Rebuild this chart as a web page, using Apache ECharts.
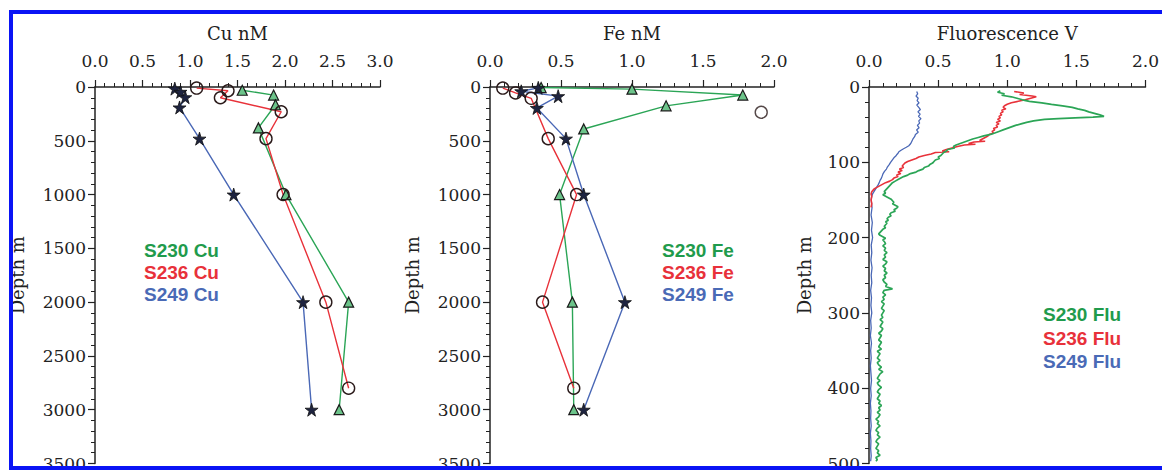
<!DOCTYPE html>
<html>
<head>
<meta charset="utf-8">
<script src="https://cdn.jsdelivr.net/npm/echarts@6/dist/echarts.min.js"></script>
<style>
html,body{margin:0;padding:0;background:#fff;}
#c{width:1162px;height:472px;}
</style>
</head>
<body>
<div id="c"></div>
<script>
// ---------- DATA ----------
// Cu (nM) vs depth (m)
const cuDepth230 = [30, 75, 165, 380, 1000, 2000, 3000];
const cu230      = [1.55, 1.88, 1.90, 1.72, 2.01, 2.67, 2.57];
const cuDepth236 = [10, 35, 100, 230, 480, 1000, 2000, 2800];
const cu236      = [1.07, 1.40, 1.32, 1.96, 1.80, 1.98, 2.43, 2.67];
const cuDepth249 = [15, 45, 95, 190, 480, 1000, 2000, 3000];
const cu249      = [0.84, 0.90, 0.95, 0.89, 1.10, 1.46, 2.19, 2.28];

// Fe (nM) vs depth (m)
const feDepth230 = [5, 20, 75, 175, 390, 1000, 2000, 3000];
const fe230      = [0.36, 1.00, 1.78, 1.24, 0.66, 0.49, 0.58, 0.59];
const feDepth236 = [10, 55, 105, 480, 1000, 2000, 2800];
const fe236      = [0.09, 0.18, 0.29, 0.41, 0.61, 0.37, 0.59];
const feDepth236Outlier = [235];
const fe236Outlier      = [1.91];
const feDepth249 = [8, 40, 85, 195, 480, 1000, 2000, 3000];
const fe249      = [0.34, 0.22, 0.48, 0.33, 0.535, 0.66, 0.95, 0.66];

// Fluorescence (V) profiles: [depth m, volts]
const flu230 = [[5,0.95],[7,0.93],[9,0.98],[11,0.96],[13,1.03],[15,1.07],[17,1.11],[19,1.16],[21,1.25],[23,1.32],[25,1.40],[27,1.47],[29,1.51],[31,1.56],[33,1.59],[35,1.63],[37,1.67],[39,1.70],[40,1.62],[41,1.49],[42,1.37],[43,1.27],[45,1.19],[47,1.14],[49,1.10],[51,1.06],[53,1.03],[55,1.00],[57,0.97],[59,0.94],[61,0.91],[63,0.88],[65,0.83],[67,0.79],[69,0.75],[71,0.72],[73,0.69],[75,0.66],[77,0.63],[79,0.61],[81,0.62],[83,0.57],[85,0.56],[87,0.54],[89,0.53],[91,0.52],[93,0.50],[95,0.51],[97,0.48],[99,0.47],[101,0.46],[103,0.44],[105,0.43],[107,0.40],[109,0.39],[111,0.36],[113,0.34],[115,0.30],[117,0.28],[119,0.25],[121,0.23],[123,0.21],[125,0.19],[127,0.17],[129,0.16],[131,0.15],[133,0.14],[135,0.13],[137,0.12],[139,0.11],[141,0.12],[143,0.10],[145,0.12],[147,0.14],[149,0.16],[151,0.17],[153,0.18],[155,0.17],[157,0.19],[159,0.21],[161,0.20],[163,0.18],[165,0.19],[167,0.16],[169,0.15],[171,0.16],[173,0.14],[175,0.13],[177,0.14],[179,0.12],[181,0.13],[183,0.12],[185,0.11],[187,0.12],[189,0.10],[191,0.09],[193,0.08],[195,0.07],[197,0.08],[199,0.10],[201,0.12],[203,0.10],[205,0.11],[208,0.12],[211,0.10],[214,0.12],[217,0.11],[220,0.13],[223,0.11],[226,0.12],[229,0.10],[232,0.13],[235,0.12],[238,0.10],[241,0.12],[244,0.11],[247,0.13],[250,0.11],[253,0.12],[256,0.10],[259,0.11],[262,0.13],[265,0.12],[268,0.17],[270,0.11],[273,0.10],[276,0.12],[279,0.10],[282,0.11],[285,0.09],[288,0.11],[291,0.10],[294,0.09],[297,0.11],[300,0.10],[303,0.09],[306,0.10],[309,0.08],[312,0.10],[315,0.09],[318,0.08],[321,0.10],[324,0.09],[327,0.07],[330,0.09],[333,0.08],[336,0.07],[339,0.09],[342,0.08],[345,0.07],[348,0.09],[351,0.06],[354,0.08],[357,0.07],[360,0.06],[363,0.08],[366,0.06],[369,0.07],[372,0.09],[375,0.07],[378,0.10],[381,0.08],[384,0.07],[387,0.06],[390,0.08],[393,0.06],[396,0.07],[399,0.09],[402,0.07],[405,0.06],[408,0.08],[411,0.07],[414,0.06],[417,0.08],[420,0.07],[423,0.09],[426,0.07],[429,0.08],[432,0.06],[435,0.08],[438,0.07],[441,0.05],[444,0.07],[447,0.06],[450,0.08],[453,0.06],[456,0.05],[459,0.07],[462,0.06],[465,0.08],[468,0.06],[471,0.05],[474,0.07],[477,0.06],[480,0.05],[483,0.07],[486,0.06],[489,0.08],[492,0.05],[495,0.06],[497,0.05]];
const flu236 = [[6,1.05],[8,1.12],[10,1.09],[12,1.18],[13,1.21],[15,1.17],[17,1.13],[19,1.08],[21,1.03],[23,1.00],[25,0.98],[27,0.97],[29,0.99],[31,0.96],[33,0.97],[35,0.95],[37,0.96],[39,0.94],[41,0.95],[43,0.93],[45,0.95],[47,0.92],[49,0.94],[51,0.92],[53,0.93],[55,0.90],[57,0.91],[59,0.89],[61,0.90],[63,0.87],[65,0.86],[67,0.84],[69,0.82],[71,0.80],[72,0.84],[73,0.76],[75,0.72],[76,0.77],[77,0.69],[79,0.64],[81,0.60],[83,0.56],[85,0.53],[86,0.58],[87,0.48],[89,0.45],[91,0.40],[93,0.36],[95,0.34],[97,0.31],[99,0.28],[101,0.26],[103,0.25],[105,0.24],[107,0.25],[109,0.22],[111,0.24],[113,0.21],[115,0.23],[117,0.20],[119,0.21],[121,0.18],[123,0.17],[125,0.15],[127,0.12],[129,0.10],[131,0.08],[133,0.06],[135,0.04],[137,0.03],[139,0.02],[142,0.015],[145,0.02],[150,0.015],[155,0.02],[160,0.015]];
const flu249 = [[6,0.345],[9,0.352],[12,0.340],[15,0.356],[18,0.348],[21,0.362],[24,0.346],[27,0.360],[30,0.372],[33,0.354],[36,0.370],[39,0.358],[42,0.376],[45,0.360],[48,0.366],[51,0.350],[54,0.362],[57,0.344],[60,0.356],[63,0.336],[66,0.330],[69,0.318],[72,0.310],[75,0.302],[78,0.288],[80,0.270],[82,0.250],[84,0.232],[86,0.216],[88,0.210],[90,0.200],[92,0.192],[94,0.180],[96,0.172],[98,0.164],[100,0.156],[103,0.146],[106,0.134],[109,0.126],[112,0.112],[115,0.102],[118,0.096],[121,0.090],[124,0.080],[127,0.074],[130,0.066],[133,0.056],[136,0.046],[139,0.036],[142,0.026],[145,0.020],[150,0.016],[160,0.022],[170,0.015],[180,0.024],[190,0.018],[200,0.026],[210,0.016],[220,0.020],[230,0.014],[240,0.022],[250,0.016],[260,0.020],[270,0.012],[280,0.018],[290,0.014],[300,0.020],[310,0.012],[320,0.016],[330,0.010],[340,0.018],[350,0.012],[360,0.016],[370,0.010],[380,0.014],[390,0.018],[400,0.012],[410,0.016],[420,0.010],[430,0.014],[440,0.012],[450,0.016],[460,0.010],[470,0.014],[480,0.012],[490,0.016],[497,0.012]];

const axisTitles = ['Cu nM', 'Fe nM', 'Fluorescence V'];
const depthTitle = 'Depth m';
const names230 = ['S230 Cu', 'S230 Fe', 'S230 Flu'];
const names236 = ['S236 Cu', 'S236 Fe', 'S236 Flu'];
const names249 = ['S249 Cu', 'S249 Fe', 'S249 Flu'];

// ---------- STYLE ----------
const GREEN = '#2ba556', RED = '#e8323a', BLUE = '#4a68b6';
const LG_GREEN = '#1f9b4c', LG_RED = '#e8313a', LG_BLUE = '#4a6ab6';
const SERIF = '"DejaVu Serif", "Liberation Serif", serif';
const SANS = '"Liberation Sans", Arial, sans-serif';
const STAR = 'path://M50,0 L61,35 L98,35 L68,57 L79,91 L50,70 L21,91 L32,57 L2,35 L39,35 Z';

const zip = (d, v) => d.map((dd, i) => [v[i], dd]);
const flip = arr => arr.map(p => [p[1], p[0]]);

const grids = [
  {left: 95,  top: 87, width: 285, height: 379},
  {left: 490, top: 87, width: 284, height: 379},
  {left: 869, top: 87, width: 284, height: 381}
];
const xMax = [3, 2, 2];
const yMax = [3500, 3500, 500];
const yInt = [500, 500, 100];
const yNameGap = [69, 69, 56];

const xAxes = grids.map((g, i) => ({
  gridIndex: i, type: 'value', position: 'top', min: 0, max: xMax[i], interval: 0.5,
  name: axisTitles[i], nameLocation: 'middle', nameGap: 45,
  nameTextStyle: {fontFamily: SERIF, fontSize: 18, color: '#222'},
  axisLine: {show: true, onZero: false, lineStyle: {color: '#222', width: 1.5}},
  axisTick: {show: true, inside: false, length: 7, lineStyle: {color: '#222', width: 1.2}},
  minorTick: {show: true, splitNumber: 5, length: 4, lineStyle: {color: '#222', width: 1}},
  axisLabel: {fontFamily: SERIF, fontSize: 17, color: '#222', margin: 18,
    formatter: v => v.toFixed(1)},
  splitLine: {show: false}
}));
const yAxes = grids.map((g, i) => ({
  gridIndex: i, type: 'value', inverse: true, min: 0, max: yMax[i], interval: yInt[i],
  name: depthTitle, nameLocation: 'middle', nameGap: yNameGap[i],
  nameTextStyle: {fontFamily: SERIF, fontSize: 18, color: '#222'},
  axisLine: {show: true, onZero: false, lineStyle: {color: '#222', width: 1.5}},
  axisTick: {show: true, inside: false, length: 7, lineStyle: {color: '#222', width: 1.2}},
  minorTick: {show: true, splitNumber: 5, length: 4, lineStyle: {color: '#222', width: 1}},
  axisLabel: {fontFamily: SERIF, fontSize: 17, color: '#222', margin: 9,
    formatter: v => String(v)},
  splitLine: {show: false}
}));

function markerSeries(name, idx, data, color, kind) {
  let symbol, size, itemStyle;
  if (kind === 'tri') {
    symbol = 'triangle'; size = 10;
    itemStyle = {color: '#6cc48a', borderColor: '#1a1a1a', borderWidth: 1.2};
  } else if (kind === 'circ') {
    symbol = 'circle'; size = 12;
    itemStyle = {color: 'rgba(255,255,255,0)', borderColor: '#2a1a1a', borderWidth: 1.4};
  } else {
    symbol = STAR; size = 13;
    itemStyle = {color: '#1e2440', borderColor: '#111', borderWidth: 0.8};
  }
  return {
    name, type: 'line', xAxisIndex: idx, yAxisIndex: idx, data,
    symbol, symbolSize: size, showSymbol: true, itemStyle,
    lineStyle: {color, width: 1.4}, z: 3, animation: false
  };
}
function profileSeries(name, data, color, w) {
  return {
    name, type: 'line', xAxisIndex: 2, yAxisIndex: 2, data,
    showSymbol: false, symbol: 'none', itemStyle: {color},
    lineStyle: {color, width: w}, animation: false
  };
}

const series = [
  markerSeries(names230[0], 0, zip(cuDepth230, cu230), GREEN, 'tri'),
  markerSeries(names236[0], 0, zip(cuDepth236, cu236), RED, 'circ'),
  markerSeries(names249[0], 0, zip(cuDepth249, cu249), BLUE, 'star'),
  markerSeries(names230[1], 1, zip(feDepth230, fe230), GREEN, 'tri'),
  markerSeries(names236[1], 1, zip(feDepth236, fe236), RED, 'circ'),
  markerSeries(names249[1], 1, zip(feDepth249, fe249), BLUE, 'star'),
  {
    name: 'S236 Fe (isolated)', type: 'scatter', xAxisIndex: 1, yAxisIndex: 1,
    data: zip(feDepth236Outlier, fe236Outlier), symbol: 'circle', symbolSize: 12,
    itemStyle: {color: 'rgba(255,255,255,0)', borderColor: '#2a1a1a', borderWidth: 1.4},
    animation: false
  },
  profileSeries(names249[2], flip(flu249), BLUE, 1.3),
  profileSeries(names236[2], flip(flu236), RED, 1.6),
  profileSeries(names230[2], flip(flu230), GREEN, 1.7)
];

function legendAt(i, left, top, lh) {
  return {
    orient: 'vertical', left, top, icon: 'none', itemWidth: 0, itemHeight: 10, itemGap: 0,
    selectedMode: false,
    textStyle: {fontFamily: SANS, fontWeight: 'bold', fontSize: 19, lineHeight: lh, padding: 0},
    data: [
      {name: names230[i], textStyle: {color: LG_GREEN}},
      {name: names236[i], textStyle: {color: LG_RED}},
      {name: names249[i], textStyle: {color: LG_BLUE}}
    ]
  };
}

const option = {
  backgroundColor: '#fff',
  animation: false,
  grid: grids,
  xAxis: xAxes,
  yAxis: yAxes,
  legend: [legendAt(0, 134, 234, 22), legendAt(1, 652, 234, 22), legendAt(2, 1033, 298, 23.5)],
  series,
  graphic: [
    {type: 'rect', z: 100, silent: true, shape: {x: 0, y: 470, width: 1162, height: 10}, style: {fill: '#fff'}},
    {type: 'rect', z: 101, silent: true, shape: {x: 11, y: 12, width: 1200, height: 456},
      style: {fill: 'none', stroke: '#0a14f5', lineWidth: 4}}
  ]
};

const chart = echarts.init(document.getElementById('c'), null, {renderer: 'svg', width: 1162, height: 472});
chart.setOption(option);
</script>
</body>
</html>
